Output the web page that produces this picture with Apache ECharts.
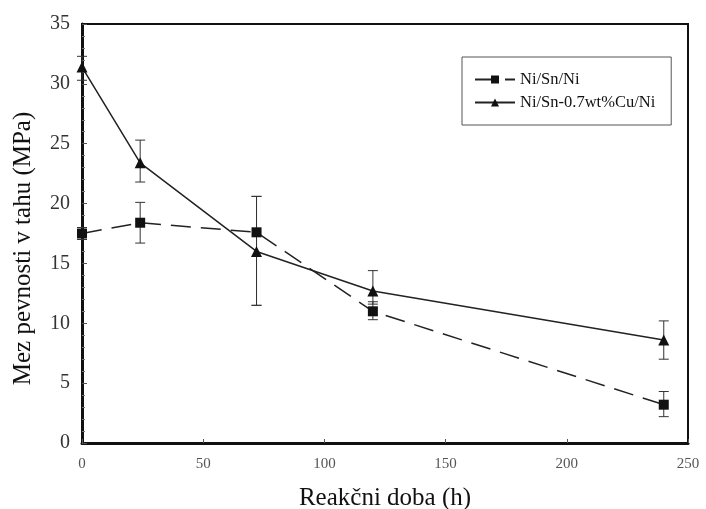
<!DOCTYPE html>
<html>
<head>
<meta charset="utf-8">
<script src="https://cdn.jsdelivr.net/npm/echarts@6/dist/echarts.min.js"></script>
<style>
  html, body { margin: 0; padding: 0; background: #fff; }
  #chart { width: 706px; height: 509px; }
</style>
</head>
<body>
<div id="chart"></div>
<script>
// reakční doba (h)
const hours = [0, 24, 72, 120, 240];
// Ni/Sn/Ni
const niSnNi = [17.5, 18.4, 17.6, 11.0, 3.2];
const niSnNiLow = [17.0, 16.7, 11.5, 10.3, 2.2];
const niSnNiHigh = [18.0, 20.1, 20.6, 11.8, 4.3];
// Ni/Sn-0.7wt%Cu/Ni
const niSnCu = [31.4, 23.4, 16.0, 12.7, 8.6];
const niSnCuLow = [30.3, 21.8, 11.5, 11.6, 7.0];
const niSnCuHigh = [32.3, 25.3, 20.6, 14.4, 10.2];

const serif = 'Liberation Serif';

function pairs(xs, ys) {
  return xs.map((x, i) => [x, ys[i]]);
}
function errData(xs, lo, hi) {
  return xs.map((x, i) => [x, lo[i], hi[i]]);
}

// vertical error bar with caps
function errorBar(params, api) {
  const top = api.coord([api.value(0), api.value(2)]);
  const bot = api.coord([api.value(0), api.value(1)]);
  const w = 5;
  const style = { stroke: '#333', lineWidth: 1 };
  return {
    type: 'group',
    children: [
      { type: 'line', shape: { x1: top[0], y1: top[1], x2: bot[0], y2: bot[1] }, style },
      { type: 'line', shape: { x1: top[0] - w, y1: top[1], x2: top[0] + w, y2: top[1] }, style },
      { type: 'line', shape: { x1: bot[0] - w, y1: bot[1], x2: bot[0] + w, y2: bot[1] }, style }
    ]
  };
}

const chart = echarts.init(document.getElementById('chart'));
chart.setOption({
  animation: false,
  backgroundColor: '#fff',
  grid: {
    left: 82, right: 18, top: 24, bottom: 66,
    outerBoundsMode: 'none',
    containLabel: false,
    show: true, borderColor: '#111', borderWidth: 2
  },
  legend: {
    left: 462, top: 57,
    orient: 'vertical',
    itemWidth: 40, itemHeight: 10, itemGap: 6,
    padding: [14, 16, 14, 12],
    borderColor: '#555', borderWidth: 1,
    textStyle: { fontFamily: serif, fontSize: 16.5, color: '#111' },
    data: ['Ni/Sn/Ni', 'Ni/Sn-0.7wt%Cu/Ni']
  },
  xAxis: {
    type: 'value',
    min: 0, max: 250, interval: 50,
    name: 'Reakčni doba (h)',
    nameLocation: 'middle', nameGap: 43,
    nameTextStyle: { fontFamily: serif, fontSize: 25, color: '#111' },
    axisLine: { show: true, lineStyle: { color: '#111', width: 3 } },
    axisTick: { show: true, inside: true, length: 4, lineStyle: { color: '#555' } },
    axisLabel: { fontFamily: serif, fontSize: 15, color: '#555', margin: 14 },
    splitLine: { show: false }
  },
  yAxis: {
    type: 'value',
    min: 0, max: 35, interval: 5,
    name: 'Mez pevnosti v tahu (MPa)',
    nameLocation: 'middle', nameGap: 46, nameRotate: 90,
    nameTextStyle: { fontFamily: serif, fontSize: 25, color: '#111', padding: [0, 30, 0, 0] },
    axisLine: { show: true, lineStyle: { color: '#111', width: 3 } },
    axisTick: { show: true, inside: true, length: 5, lineStyle: { color: '#555' } },
    minorTick: { show: true, splitNumber: 5, length: 3, lineStyle: { color: '#777' } },
    axisLabel: { fontFamily: serif, fontSize: 20, color: '#333', margin: 12 },
    splitLine: { show: false }
  },
  series: [
    {
      name: 'Ni/Sn/Ni',
      type: 'line',
      data: pairs(hours, niSnNi),
      symbol: 'rect', symbolSize: 10,
      itemStyle: { color: '#111' },
      lineStyle: { color: '#222', width: 1.5, type: [20, 10] },
      z: 3
    },
    {
      name: 'Ni/Sn-0.7wt%Cu/Ni',
      type: 'line',
      data: pairs(hours, niSnCu),
      symbol: 'triangle', symbolSize: 11,
      itemStyle: { color: '#111' },
      lineStyle: { color: '#222', width: 1.5 },
      z: 3
    },
    {
      type: 'custom',
      renderItem: errorBar,
      data: errData(hours, niSnNiLow, niSnNiHigh),
      encode: { x: 0, y: [1, 2] },
      z: 2
    },
    {
      type: 'custom',
      renderItem: errorBar,
      data: errData(hours, niSnCuLow, niSnCuHigh),
      encode: { x: 0, y: [1, 2] },
      z: 2
    }
  ]
});
</script>
</body>
</html>
